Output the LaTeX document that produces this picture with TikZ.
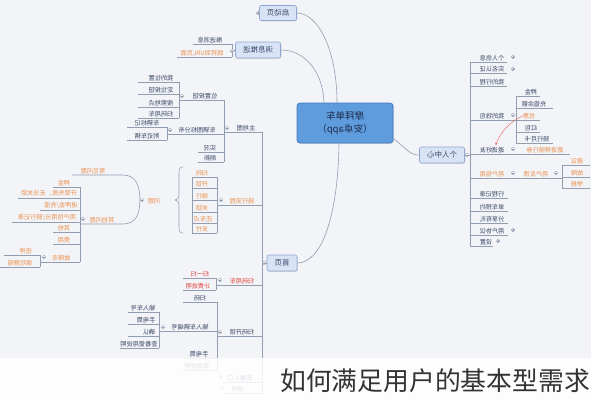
\documentclass[tikz,border=0pt]{standalone}
\usepackage{fontspec}
\setmainfont{Noto Sans CJK SC}
\usepackage{graphicx}
\usetikzlibrary{arrows.meta,shadows}
\definecolor{bg}{HTML}{F3F4F8}
\definecolor{lc}{HTML}{939DB2}
\definecolor{tx}{HTML}{3A4866}
\definecolor{og}{HTML}{EA9150}
\definecolor{rd}{HTML}{E0463E}
\definecolor{bxf}{HTML}{D8E4F6}
\definecolor{bxd}{HTML}{8FA7CF}
\definecolor{cf}{HTML}{5F9CDD}
\definecolor{cd}{HTML}{4479BD}
\definecolor{ct}{HTML}{1E2E50}
\newcommand\mr[1]{\reflectbox{#1}}
% left-side leaf: name, cx, uly, text, color, leftpad, bus
\newcommand\LL[7]{\node[lbl,text=#5] (#1) at (#2,#3) {\mr{#4}};
  \draw[ul] ([xshift=-#6pt]#1.south west) -- (#1.south -| #7);}
% right-side leaf: name, cx, uly, text, color, rightpad, bus
\newcommand\RL[7]{\node[lbl,text=#5] (#1) at (#2,#3) {\mr{#4}};
  \draw[ul] (#1.south -| #7) -- ([xshift=#6pt]#1.south east);}
\begin{document}
\begin{tikzpicture}[x=1pt,y=-1pt,
  lbl/.style={font=\fontsize{6.2}{6.2}\selectfont, inner xsep=0pt, inner ysep=1.2pt, anchor=south, text=tx},
  ul/.style={draw=lc, line width=0.6pt},
  box/.style={draw=bxd, fill=bxf, rounded corners=2pt, line width=0.6pt, font=\fontsize{7.5}{7.5}\selectfont, text=tx, inner sep=0pt, drop shadow={shadow xshift=0.8pt, shadow yshift=-0.8pt, opacity=0.25}},
  mn/.style={circle, draw=lc, fill=white, inner sep=0pt, minimum size=3.8pt, line width=0.4pt, path picture={\draw[lc,line width=0.4pt] ([xshift=-1pt]path picture bounding box.center) -- ([xshift=1pt]path picture bounding box.center);}},
  pl/.style={circle, draw=lc, fill=white, inner sep=0pt, minimum size=3.8pt, line width=0.4pt, path picture={\draw[lc,line width=0.4pt] ([xshift=-1pt]path picture bounding box.center) -- ([xshift=1pt]path picture bounding box.center) ([yshift=-1pt]path picture bounding box.center) -- ([yshift=1pt]path picture bounding box.center);}},
]
\fill[bg] (0,0) rectangle (591,400);
\useasboundingbox (0,0) rectangle (591,400);

% ---------- main nodes ----------
\node[draw=cd, fill=cf, rounded corners=3pt, minimum width=96pt, minimum height=40pt, line width=0.7pt, text=ct, align=center, font=\fontsize{9.5}{12.5}\selectfont, drop shadow={shadow xshift=0.8pt, shadow yshift=-0.8pt, opacity=0.25}] (cen) at (345,123) {\mr{摩拜单车}\\\mr{（安卓app）}};
\node[box, minimum width=37pt, minimum height=15pt] (qd) at (278,13) {\mr{启动页}};
\node[box, minimum width=45pt, minimum height=16pt] (xx) at (258,50) {\mr{消息推送}};
\node[box, minimum width=30pt, minimum height=16pt] (sy) at (282,263) {\mr{首页}};
\node[box, minimum width=45pt, minimum height=16pt] (gr) at (442,155) {\mr{个人中心}};

\draw[ul] (qd.east) .. controls (318,13) and (337,50) .. ([xshift=-8pt]cen.north);
\draw[ul] (xx.east) .. controls (305,50) and (323,72) .. ([xshift=-21pt]cen.north);
\draw[ul] ([xshift=-6pt]cen.south) .. controls (338,215) and (322,263) .. (sy.east);
\draw[ul] ([yshift=5pt]cen.south east) .. controls (408,150) and (410,155) .. (gr.west);

\node[pl] (qdc) at (258,13) {};

% ---------- 消息推送 ----------
\coordinate (Bxx) at (232,0);
\LL{xx1}{210}{44}{推送消息}{tx}{4.6}{Bxx}
\LL{xx2}{202}{57}{跳转到URL页面}{og}{3.5}{Bxx}
\draw[ul] (xx1.south -| Bxx) -- (xx2.south -| Bxx);
\draw[ul] (xx.west) -- (xx.west -| Bxx);
\node[mn] (xxc) at (232,51) {};

% ---------- 首页 ----------
\coordinate (Bsy) at (262,0);
\coordinate (Bzdt) at (224,0);
\coordinate (Bwz) at (179,0);
\coordinate (Bcl) at (167,0);
\coordinate (Bqx) at (217,0);
\coordinate (Lq) at (192,0);
\coordinate (Bwt) at (123,0);
\coordinate (Bqt) at (80,0);
\coordinate (Bo7) at (40,0);
\coordinate (Bsm) at (216,0);
\coordinate (Bks) at (217,0);
\coordinate (Bk2) at (159,0);

% 主地图
\node[lbl] (zdt) at (246,132) {\mr{主地图}};
\draw[ul] (zdt.south -| Bzdt) -- (zdt.south -| Bsy);
\node[lbl] (wz) at (205,100) {\mr{位置按钮}};
\draw[ul] (wz.south -| Bwz) -- (wz.south -| Bzdt);
\LL{wz1}{161}{82}{我的位置}{tx}{10}{Bwz}
\LL{wz2}{161}{94}{定位按钮}{tx}{10}{Bwz}
\LL{wz3}{161}{107}{搜索地点}{tx}{10}{Bwz}
\LL{wz4}{161}{118}{扫码用车}{tx}{10}{Bwz}
\draw[ul] (wz1.south -| Bwz) -- (wz4.south -| Bwz);
\node[mn] (wzc) at (182,96) {};
\node[lbl] (cl) at (197,134) {\mr{车辆图标分布}};
\draw[ul] (cl.south -| Bcl) -- (cl.south -| Bzdt);
\LL{cl1}{147}{127}{车辆标记}{tx}{7}{Bcl}
\LL{cl2}{147}{140}{附近车辆}{tx}{7}{Bcl}
\draw[ul] (cl1.south -| Bcl) -- (cl2.south -| Bcl);
\node[mn] (clc) at (170,130) {};
\LL{sk}{210}{152}{实况}{tx}{6}{Bzdt}
\LL{sx}{210}{162}{刷新}{tx}{6}{Bzdt}
\draw[ul] (wz.south -| Bzdt) -- (sx.south -| Bzdt);
\node[mn] (zdtc) at (227,128) {};

% 骑行流程
\node[lbl,text=og] (qx) at (242,205) {\mr{骑行流程}};
\draw[ul] (qx.south -| Bqx) -- (qx.south -| Bsy);
\node[lbl,text=og] (q1) at (202,177) {\mr{扫码}};
\node[lbl,text=og] (q2) at (202,188) {\mr{开锁}};
\node[lbl,text=og] (q3) at (202,200) {\mr{骑行}};
\node[lbl,text=og] (q4) at (202,212) {\mr{关锁}};
\node[lbl,text=og] (q5) at (203,223) {\mr{还车点}};
\node[lbl,text=og] (q6) at (202,233) {\mr{支付}};
\foreach \q in {q1,q2,q3,q4,q5,q6}{\draw[ul] (\q.south -| Lq) -- (\q.south -| Bqx);}
\draw[ul] (q1.south -| Bqx) -- (q6.south -| Bqx);
\draw[ul] (q1.south -| Lq) -- (q6.south -| Lq);
\node[mn] (qxc) at (221,200) {};
% summary brace
\draw[lc, line width=0.6pt] (183,167) .. controls (179.5,167) and (179,169) .. (179,174) -- (179,194) .. controls (179,198.5) and (177.5,200) .. (175,200) .. controls (177.5,200) and (179,201.5) .. (179,206) -- (179,226) .. controls (179,231) and (179.5,233) .. (183,233);
\node[lbl,text=og] (wt) at (154,205) {\mr{问题}};
\node[mn] (wtc) at (142,200) {};
\node[lbl,text=og] (cj) at (93,175) {\mr{常见问题}};
\draw[ul] ([xshift=-8.6pt]cj.south west) -- (cj.south -| Bwt) .. controls +(13,0) and +(0,-14) .. (wtc.west);
\node[lbl,text=og] (qt) at (102,224) {\mr{其他问题}};
\draw[ul] (qt.south -| Bqt) -- (qt.south -| Bwt) .. controls +(13,0) and +(0,14) .. (wtc.west);
\LL{o1}{64}{187}{押金}{og}{5}{Bqt}
\LL{o2}{49}{198}{开锁失败，无法关锁}{og}{3}{Bqt}
\LL{o3}{61}{210}{退押金/充值}{og}{4}{Bqt}
\LL{o4}{47}{222}{用户信用分/骑行记录}{og}{6}{Bqt}
\LL{o5}{64}{232}{其他}{og}{5}{Bqt}
\LL{o6}{64}{244}{费用}{og}{5}{Bqt}
\node[lbl,text=og] (o7) at (61,262) {\mr{故障车}};
\draw[ul] (o7.south -| Bo7) -- (o7.south -| Bqt);
\draw[ul] (o1.south -| Bqt) -- (o7.south -| Bqt);
\node[mn] (qtc) at (83,219) {};
\LL{o71}{26}{255}{违停}{og}{16}{Bo7}
\LL{o72}{20}{267}{保险理赔}{og}{7.6}{Bo7}
\draw[ul] (o71.south -| Bo7) -- (o72.south -| Bo7);
\node[mn] (o7c) at (44,257) {};

% 扫码用车
\node[lbl,text=rd] (sm) at (242,285) {\mr{扫码用车}};
\draw[ul] (sm.south -| Bsm) -- (sm.south -| Bsy);
\LL{s1}{200}{278}{扫一扫}{rd}{7.7}{Bsm}
\LL{s2}{198}{290}{计费说明}{rd}{2.6}{Bsm}
\draw[ul] (s1.south -| Bsm) -- (s2.south -| Bsm);
\node[mn] (smc) at (220,280) {};

% 扫码开锁
\node[lbl] (ks) at (242,336) {\mr{扫码开锁}};
\draw[ul] (ks.south -| Bks) -- (ks.south -| Bsy);
\LL{k1}{200}{302}{扫码}{tx}{10.8}{Bks}
\node[lbl] (k2) at (190,331) {\mr{输入车辆编号}};
\draw[ul] (k2.south -| Bk2) -- (k2.south -| Bks);
\LL{k21}{143}{312}{输入车号}{tx}{2.6}{Bk2}
\LL{k22}{146}{324}{手电筒}{tx}{8.7}{Bk2}
\LL{k23}{149}{336}{确认}{tx}{14.8}{Bk2}
\LL{k24}{139}{348}{查看使用说明}{tx}{0.5}{Bk2}
\draw[ul] (k21.south -| Bk2) -- (k24.south -| Bk2);
\node[mn] (k2c) at (163,327) {};
\LL{k3}{199}{358}{手电筒}{tx}{6.7}{Bks}
\LL{k4}{197}{370}{使用说明}{tx}{1.6}{Bks}
\draw[ul] (k1.south -| Bks) -- (k4.south -| Bks);
\node[mn] (ksc) at (220,332) {};
\LL{f1}{240}{382}{查看入口}{tx}{4}{Bsy}
\LL{f2}{238}{393}{说明}{tx}{8}{Bsy}
\node[pl] (f1c) at (221,377) {};
\node[pl] (f2c) at (222,388) {};
\draw[ul] (zdt.south -| Bsy) -- (f2.south -| Bsy);
\draw[ul] (sy.west) -- (sy.west -| Bsy);
\node[mn] (syc) at (264,263) {};

% ---------- 个人中心 ----------
\coordinate (Bgr) at (470,0);
\coordinate (Br4) at (516,0);
\coordinate (Br6) at (562,0);
\RL{r1}{492}{62}{个人信息}{tx}{2.6}{Bgr}
\RL{r2}{492}{73}{实名认证}{tx}{2.6}{Bgr}
\RL{r3}{492}{86}{我的行程}{tx}{2.6}{Bgr}
\node[pl] (r1c) at (513,57) {};
\node[pl] (r2c) at (513,69) {};
\node[lbl] (r4) at (492,120) {\mr{我的钱包}};
\draw[ul] (r4.south -| Bgr) -- (r4.south -| Br4);
\RL{r41}{531}{96}{押金}{tx}{3}{Br4}
\RL{r42}{534}{108}{充值余额}{tx}{6.6}{Br4}
\RL{r43}{529}{120}{优惠}{og}{5}{Br4}
\RL{r44}{531}{132}{红包}{tx}{3}{Br4}
\RL{r45}{537}{143}{骑行月卡}{tx}{3.6}{Br4}
\draw[ul] (r41.south -| Br4) -- (r45.south -| Br4);
\node[mn] (r4c) at (513,115) {};
\node[lbl] (r5) at (492,154) {\mr{邀请好友}};
\node[lbl,text=og] (r51) at (545,154) {\mr{邀请得骑行券}};
\draw[ul] (r5.south -| Bgr) -- ([xshift=6.4pt]r51.south east);
\node[mn] (r5c) at (513,149) {};
\node[lbl,text=og] (r6) at (492,178) {\mr{用户指南}};
\draw[ul] (r6.south -| Bgr) -- (r6.south -| Br6);
\node[lbl,text=og] (r61) at (536,178) {\mr{用户反馈}};
\node[mn] (r6c) at (513,173) {};
\RL{r611}{577}{165}{建议}{og}{6.8}{Br6}
\RL{r612}{577}{177}{故障}{og}{6.8}{Br6}
\RL{r613}{577}{188}{举报}{og}{6.8}{Br6}
\draw[ul] (r611.south -| Br6) -- (r613.south -| Br6);
\node[mn] (r61c) at (556,173) {};
\RL{r7}{492}{198}{行程记录}{tx}{3.6}{Bgr}
\RL{r8}{492}{211}{单车预约}{tx}{3.6}{Bgr}
\RL{r9}{492}{223}{分享有礼}{tx}{3.6}{Bgr}
\RL{r10}{492}{235}{用户协议}{tx}{3.6}{Bgr}
\RL{r11}{486}{246}{设置}{tx}{1}{Bgr}
\node[pl] (r10c) at (513,230) {};
\node[pl] (r11c) at (498,241) {};
\draw[ul] (r1.south -| Bgr) -- (r11.south -| Bgr);
\draw[ul] (gr.east) -- (gr.east -| Bgr);
\node[mn] (grc) at (467,155) {};
\draw[draw=rd!75, line width=0.5pt, -{Stealth[length=3pt,width=2.5pt]}] (r43.west) .. controls (506,124) and (499,136) .. ([xshift=-9pt]r5.north east);

% ---------- overlay caption ----------
\fill[white, opacity=0.85] (0,358) rectangle (591,400);
\node[font=\fontsize{25.8}{25.8}\selectfont, text=black!80, anchor=east, inner sep=0pt] (cap) at (590,381) {如何满足用户的基本型需求};
\end{tikzpicture}
\end{document}
